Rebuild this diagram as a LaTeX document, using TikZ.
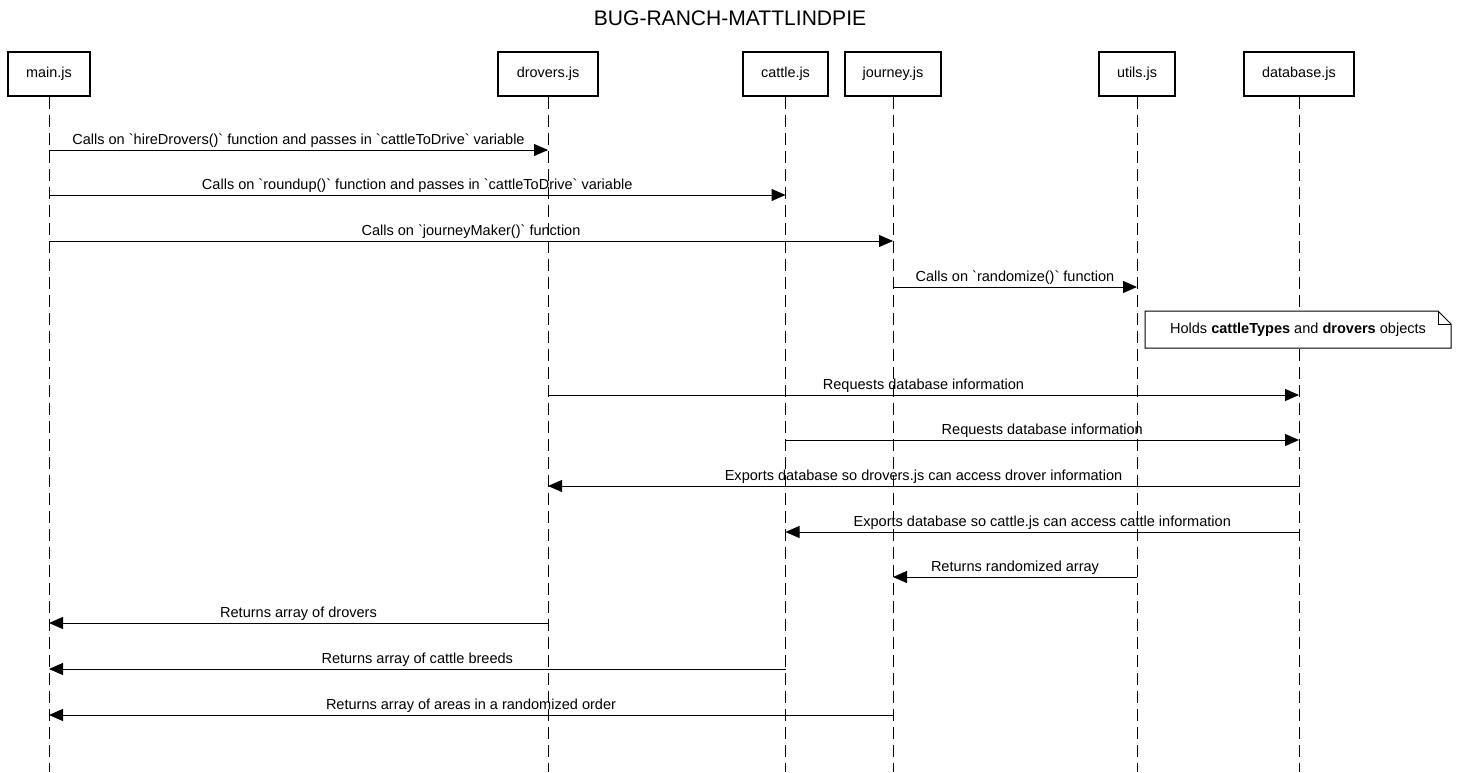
\documentclass[tikz,border=0pt]{standalone}
\usepackage{fontspec}
\setmainfont{Liberation Sans}
\usetikzlibrary{arrows.meta}

\def\bq{\textasciigrave}	% Back quote

\tikzset{
	actor/.style = {draw, line width = 1.5pt, minimum height = 33pt, inner xsep = 6pt, font = \fontsize{10.8}{12}\selectfont},
	lifeline/.style = {dash pattern = on 9pt off 4.5pt, line width = 0.75pt},
	msg/.style = {-{Triangle[length = 10.5pt, width = 9pt]}, line width = 0.75pt},
	msglabel/.style = {above, inner sep = 1.5pt, font = \fontsize{10.9}{12}\selectfont},
	notebox/.style = {draw, fill = white, line width = 0.75pt}
}

\begin{document}
\begin{tikzpicture}[x = 0.75pt, y = -0.75pt]

	% Canvas
	
	\useasboundingbox (0, 0) rectangle (1460, 772);
	
	% Title
	
	\node [font = \fontsize{15.8}{18}\selectfont] (title) at (730, 18) {BUG-RANCH-MATTLINDPIE};
	
	% Participants
	
	\node [actor, minimum width = 62pt] (main) at (49, 73.5) {main.js};
	\node [actor, minimum width = 75pt] (drovers) at (548, 73.5) {drovers.js};
	\node [actor, minimum width = 64pt] (cattle) at (785.5, 73.5) {cattle.js};
	\node [actor, minimum width = 72pt] (journey) at (893, 73.5) {journey.js};
	\node [actor, minimum width = 57pt] (utils) at (1137, 73.5) {utils.js};
	\node [actor, minimum width = 82pt] (database) at (1299, 73.5) {database.js};
	
	% Lifelines
	
	\foreach \p in {main, drovers, cattle, journey, utils, database}
	{
		\coordinate (\p-end) at (\p.south |- 0, 772);
		\draw [lifeline] (\p.south) -- (\p-end);
	}
	
	% Calls from main.js
	
	\draw [msg] (main |- 0, 150) -- node [msglabel] {Calls on \bq hireDrovers()\bq{} function and passes in \bq cattleToDrive\bq{} variable} (drovers |- 0, 150);
	\draw [msg] (main |- 0, 195) -- node [msglabel] {Calls on \bq roundup()\bq{} function and passes in \bq cattleToDrive\bq{} variable} (cattle |- 0, 195);
	\draw [msg] (main |- 0, 241) -- node [msglabel] {Calls on \bq journeyMaker()\bq{} function} (journey |- 0, 241);
	\draw [msg] (journey |- 0, 287) -- node [msglabel] {Calls on \bq randomize()\bq{} function} (utils |- 0, 287);
	
	% Note over database.js
	
	\draw [notebox] (1145, 311) -- (1438, 311) -- (1451, 324) -- (1451, 348) -- (1145, 348) -- cycle;
	\draw [line width = 0.75pt] (1438, 311) -- (1438, 324) -- (1451, 324);
	\node [font = \fontsize{10.9}{12}\selectfont] (note) at (1298, 329.5) {Holds \textbf{cattleTypes} and \textbf{drovers} objects};
	
	% Database requests and exports
	
	\draw [msg] (drovers |- 0, 395) -- node [msglabel] {Requests database information} (database |- 0, 395);
	\draw [msg] (cattle |- 0, 440) -- node [msglabel] {Requests database information} (database |- 0, 440);
	\draw [msg] (database |- 0, 486) -- node [msglabel] {Exports database so drovers.js can access drover information} (drovers |- 0, 486);
	\draw [msg] (database |- 0, 532) -- node [msglabel] {Exports database so cattle.js can access cattle information} (cattle |- 0, 532);
	
	% Returns
	
	\draw [msg] (utils |- 0, 577) -- node [msglabel] {Returns randomized array} (journey |- 0, 577);
	\draw [msg] (drovers |- 0, 623) -- node [msglabel] {Returns array of drovers} (main |- 0, 623);
	\draw [msg] (cattle |- 0, 669) -- node [msglabel] {Returns array of cattle breeds} (main |- 0, 669);
	\draw [msg] (journey |- 0, 715) -- node [msglabel] {Returns array of areas in a randomized order} (main |- 0, 715);

\end{tikzpicture}
\end{document}
